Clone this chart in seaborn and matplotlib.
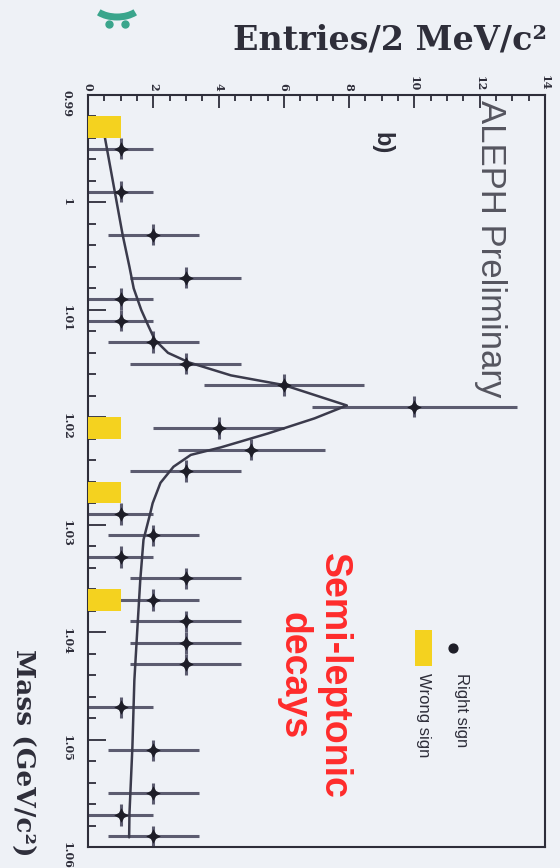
import matplotlib
matplotlib.use("Agg")
import matplotlib.pyplot as plt
from matplotlib.ticker import MultipleLocator
from matplotlib.patches import Rectangle, Arc
import seaborn as sns

sns.set_style("ticks")
plt.rcParams["font.family"] = ["DejaVu Sans"]

# right-sign candidates (bin centre in GeV/c^2, entries, error)
right_mass = [0.995, 0.999, 1.003, 1.007, 1.009, 1.011, 1.013, 1.015, 1.017, 1.019,
              1.021, 1.023, 1.025, 1.029, 1.031, 1.033, 1.035, 1.037, 1.039, 1.041,
              1.043, 1.047, 1.051, 1.055, 1.057, 1.059]
right_counts = [1, 1, 2, 3, 1, 1, 2, 3, 6, 10,
                4, 5, 3, 1, 2, 1, 3, 2, 3, 3,
                3, 1, 2, 2, 1, 2]
right_err = [1.0, 1.0, 1.4, 1.7, 1.0, 1.0, 1.4, 1.7, 2.45, 3.15,
             2.0, 2.25, 1.7, 1.0, 1.4, 1.0, 1.7, 1.4, 1.7, 1.7,
             1.7, 1.0, 1.4, 1.4, 1.0, 1.4]

# wrong-sign histogram
wrong_mass = [0.993, 1.021, 1.027, 1.037]
wrong_counts = [1, 1, 1, 1]

# fit curve
fit_mass = [0.9925, 0.9940, 0.9970, 1.0000, 1.0030, 1.0060, 1.0080, 1.0100, 1.0115,
            1.0128, 1.0140, 1.0149, 1.0161, 1.0170, 1.0189, 1.0201, 1.0215, 1.0228,
            1.0235, 1.0246, 1.0261, 1.0280, 1.0289, 1.0314, 1.0352, 1.0398, 1.0445,
            1.0507, 1.0569, 1.0591]
fit_entries = [0.45, 0.52, 0.70, 0.88, 1.06, 1.27, 1.40, 1.63, 1.85,
               2.05, 2.45, 3.10, 4.38, 6.00, 7.93, 6.94, 5.52, 4.07,
               3.15, 2.62, 2.22, 1.98, 1.91, 1.70, 1.60, 1.51, 1.42,
               1.36, 1.27, 1.26]

mass_ticks = [0.99, 1.00, 1.01, 1.02, 1.03, 1.04, 1.05, 1.06]
mass_labels = ["0.99", "1", "1.01", "1.02", "1.03", "1.04", "1.05", "1.06"]
entry_ticks = [0, 2, 4, 6, 8, 10, 12, 14]

bg = "#eef1f6"
ink = "#2e2e3a"
W, H = 560, 868

fig = plt.figure(figsize=(5.6, 8.68), dpi=100, facecolor=bg)
ax = fig.add_axes([88 / W, 1 - 847 / H, (545 - 88) / W, (847 - 95) / H])
ax.set_facecolor(bg)

# fit line
sns.lineplot(x=fit_entries, y=fit_mass, sort=False, estimator=None,
             color="#3b3b4c", lw=1.8, ax=ax, zorder=3)

# data points
ax.errorbar(right_counts, right_mass, xerr=right_err, yerr=0.001, fmt="none",
            ecolor="#5c5c70", elinewidth=2.2, capsize=0, zorder=2)
ax.scatter(right_counts, right_mass, marker=(4, 1, 0), s=110, color="#1e1e28",
           zorder=4, linewidths=0)

# wrong sign bars
ax.barh(wrong_mass, wrong_counts, height=0.002, color="#f4d21f", edgecolor="none", zorder=5)

ax.set_xlim(0, 14)
ax.set_ylim(1.06, 0.99)
ax.set_xticks(entry_ticks)
ax.set_xticklabels([str(t) for t in entry_ticks])
ax.xaxis.set_minor_locator(MultipleLocator(0.5))
ax.set_yticks(mass_ticks)
ax.set_yticklabels(mass_labels)
ax.yaxis.set_minor_locator(MultipleLocator(0.002))
ax.xaxis.tick_top()
ax.tick_params(axis="x", which="both", direction="in", top=True, bottom=False,
               color=ink, width=1.3, labelrotation=-90, labelsize=8, pad=3)
ax.tick_params(axis="x", which="major", length=9)
ax.tick_params(axis="x", which="minor", length=4.5)
ax.tick_params(axis="y", which="both", direction="in", left=True, right=False,
               color=ink, width=1.3, labelrotation=-90, labelsize=8, pad=11)
ax.tick_params(axis="y", which="major", length=13)
ax.tick_params(axis="y", which="minor", length=6)
for lab in ax.get_xticklabels() + ax.get_yticklabels():
    lab.set_fontfamily("DejaVu Serif")
    lab.set_fontweight("bold")
    lab.set_color(ink)
for sp in ax.spines.values():
    sp.set_visible(True)
    sp.set_linewidth(1.5)
    sp.set_color(ink)
ax.set_xlabel("")
ax.set_ylabel("")

# texts inside the frame (pixel positions of the picture)
def px(x, y):
    return ((x - 88) / (545 - 88), 1 - (y - 95) / (847 - 95))

ax.text(*px(490, 100), "ALEPH Preliminary", transform=ax.transAxes, rotation=-90,
        ha="center", va="top", fontsize=25, color="#55555f", family="Liberation Sans")
ax.text(*px(382, 143), "b)", transform=ax.transAxes, rotation=-90,
        ha="center", va="center", fontsize=17, fontweight="bold", color=ink,
        family="Liberation Sans")
ax.text(*px(314, 676), "Semi-leptonic\ndecays", transform=ax.transAxes, rotation=-90,
        ha="center", va="center", fontsize=27, fontweight="bold", color="#ff2b2b",
        family="Liberation Sans", linespacing=1.15, multialignment="center")

# legend
ax.scatter(*px(453, 648), transform=ax.transAxes, s=40, color="#1e1e28", zorder=6)
ax.text(*px(461, 673), "Right sign", transform=ax.transAxes, rotation=-90,
        ha="center", va="top", fontsize=12, color=ink, family="Liberation Sans")
x0, y0 = px(415, 666)
x1, y1 = px(432, 630)
ax.add_patch(Rectangle((x0, y0), x1 - x0, y1 - y0, transform=ax.transAxes,
                       facecolor="#f4d21f", edgecolor="none", zorder=6))
ax.text(*px(423, 673), "Wrong sign", transform=ax.transAxes, rotation=-90,
        ha="center", va="top", fontsize=12, color=ink, family="Liberation Sans")

# axis titles
fig.text(547 / W, 1 - 40 / H, "Entries/2 MeV/c²", ha="right", va="center",
         fontsize=24, fontweight="bold", family="DejaVu Serif", color=ink)
fig.text(23 / W, 1 - 753 / H, "Mass (GeV/c²)", rotation=-90, ha="center", va="center",
         fontsize=19, fontweight="bold", family="DejaVu Serif", color=ink)

# small teal logo at the top
fig.add_artist(Arc((117 / W, 1 - 2 / H), 50 / W, 30 / H, theta1=200, theta2=340,
                   transform=fig.transFigure, color="#3aa58c", lw=5))
fig.add_artist(plt.Line2D([109 / W, 125 / W], [1 - 24 / H, 1 - 24 / H], transform=fig.transFigure,
                          ls="none", marker="o", ms=5, color="#3aa58c"))

fig.savefig("out.png", dpi=100, facecolor=bg)
